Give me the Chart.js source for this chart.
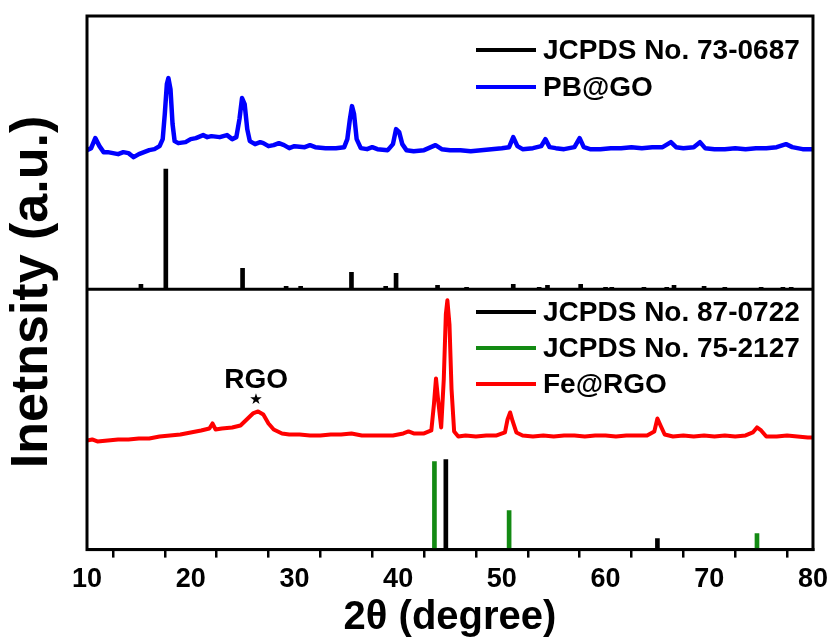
<!DOCTYPE html>
<html>
<head>
<meta charset="utf-8">
<script src="https://cdn.jsdelivr.net/npm/chart.js@4.4.0/dist/chart.umd.min.js"></script>
<style>
  html, body { margin: 0; padding: 0; background: #fff; }
  #wrap { width: 834px; height: 640px; }
</style>
</head>
<body>
<div id="wrap"><canvas id="xrd" width="834" height="640"></canvas></div>
<script>
// XRD patterns: PB@GO (top panel) and Fe@RGO (bottom panel) with reference cards

// PB@GO measured pattern (2theta, intensity a.u.)
var pbgoAngle = [10.0, 10.4, 10.8, 11.2, 11.6, 12.0, 12.5, 13.0, 13.5, 14.0, 14.5, 15.0, 15.5, 16.0, 16.5, 17.0,
  17.3, 17.5, 17.7, 17.85, 18.05, 18.25, 18.45, 18.8, 19.5, 20.0, 20.5, 21.2, 21.6, 22.0, 22.8, 23.5, 24.0, 24.4,
  24.7, 24.95, 25.2, 25.45, 25.7, 26.2, 26.7, 27.0, 27.5, 28.0, 28.5, 29.0, 29.5, 30.0, 31.0, 31.5, 32.0, 33.0, 34.0, 34.8,
  35.1, 35.35, 35.55, 35.75, 36.0, 36.4, 37.0, 37.5, 38.0, 39.0, 39.5, 39.8, 40.1, 40.4, 40.8, 41.5,
  42.5, 43.6, 44.2, 45.0, 46.0, 47.0, 48.0, 49.0, 50.0, 50.7, 51.1, 51.5, 52.0, 53.0, 53.8,
  54.2, 54.6, 55.2, 56.0, 57.0, 57.5, 57.9, 58.5, 59.5, 60.5, 61.5, 62.5, 63.5, 64.5, 65.5,
  66.3, 66.8, 67.5, 68.5, 69.1, 69.6, 70.5, 71.5, 72.5, 73.5, 74.5, 75.5, 76.5, 77.4, 78.0,
  79.0, 80.0];
var pbgoIntensity = [139, 141, 151, 143, 137, 137, 136, 135, 137, 136, 132, 135, 137, 139, 140, 143,
  150, 175, 205, 211, 200, 165, 148, 146, 147, 150, 151, 154, 152, 153, 152, 154, 150, 152,
  170, 191, 185, 160, 148, 145, 147, 146, 143, 144, 146, 144, 141, 143, 142, 144, 142, 141, 141, 142,
  150, 170, 183, 175, 150, 141, 140, 142, 140, 139, 145, 160, 157, 145, 139, 138,
  139, 144, 140, 139, 139, 138, 139, 140, 141, 142, 152, 143, 140, 141, 143,
  150, 142, 141, 140, 142, 151, 142, 140, 140, 141, 141, 142, 141, 142, 142,
  147, 142, 141, 142, 147, 141, 140, 140, 141, 140, 141, 141, 142, 145, 142,
  140, 140];

// JCPDS No. 73-0687 reference lines
var card730687Angle = [15.2, 17.6, 25.0, 29.2, 30.6, 35.5, 38.8, 39.8, 43.8, 46.6, 51.1, 53.6,
  54.4, 57.6, 60.0, 60.6, 63.7, 65.9, 66.6, 69.5, 71.5, 75.0, 77.1, 77.9];
var card730687Intensity = [5, 120, 21, 3, 3, 17, 3, 16, 4, 2, 5, 2,
  4, 5, 2, 2, 2, 2, 4, 3, 2, 2, 2, 2];

// Fe@RGO measured pattern
var feAngle = [10.0, 10.5, 11.0, 12.0, 13.0, 14.0, 15.0, 16.0, 17.0, 18.0, 19.0, 20.0, 21.0,
  21.8, 22.1, 22.4, 23.0, 24.0, 24.8, 25.5, 26.0, 26.5, 27.0, 27.5, 28.0, 28.8, 29.5, 30.5,
  31.5, 32.5, 33.5, 34.5, 35.5, 36.5, 37.5, 38.5, 39.5, 40.5, 41.0, 41.5, 42.5, 43.2, 43.45,
  43.65, 43.85, 44.15, 44.4, 44.6, 44.75, 44.95, 45.15, 45.4, 45.8, 46.5, 47.5, 48.5, 49.5,
  50.3, 50.55, 50.8, 51.05, 51.4, 52.0, 53.0, 54.0, 55.0, 56.0, 57.0, 58.0, 59.0, 60.0,
  61.0, 62.0, 63.0, 64.0, 64.7, 65.0, 65.3, 65.7, 66.5, 67.5, 68.5, 69.5, 70.5, 71.5, 72.5,
  73.5, 74.2, 74.6, 75.0, 75.5, 76.5, 77.5, 78.5, 79.5, 80.0];
var feIntensity = [109, 110, 108, 109, 110, 110, 111, 111, 113, 114, 115, 117, 119,
  121, 126, 120, 121, 122, 124, 131, 136, 138, 135, 126, 120, 116, 115, 115,
  114, 114, 115, 115, 116, 114, 114, 114, 114, 116, 118, 116, 116, 119, 145,
  171, 150, 122, 170, 235, 249, 225, 160, 118, 113, 114, 113, 114, 114,
  117, 130, 137, 128, 117, 114, 113, 114, 113, 114, 114, 113, 114, 114,
  113, 114, 114, 114, 118, 131, 124, 115, 113, 114, 113, 114, 113, 114, 113,
  114, 117, 122, 119, 113, 113, 114, 113, 112, 112];

// JCPDS No. 87-0722 and No. 75-2127 reference lines
var card870722Angle = [44.6, 65.0];
var card870722Intensity = [90, 11];
var card752127Angle = [43.5, 50.7, 74.6];
var card752127Intensity = [88, 39, 16];

var xTicksMajor = [10, 20, 30, 40, 50, 60, 70, 80];

var FONT = "'Liberation Sans', Arial, sans-serif";

function toPoints(xs, ys) {
  return xs.map(function(x, i) { return { x: x, y: ys[i] }; });
}

function stickSet(label, xs, ys, color, axis, panel) {
  return {
    type: 'bar',
    label: label,
    data: toPoints(xs, ys),
    yAxisID: axis,
    backgroundColor: color,
    borderWidth: 0,
    barThickness: 4,
    grouped: false,
    panel: panel
  };
}

function curveSet(label, xs, ys, color, axis, panel, width) {
  return {
    type: 'line',
    label: label,
    data: toPoints(xs, ys),
    yAxisID: axis,
    borderColor: color,
    backgroundColor: color,
    borderWidth: width,
    pointRadius: 0,
    tension: 0,
    borderJoinStyle: 'round',
    panel: panel
  };
}

// frame around both panels, the divider between them, and the y title
var framePlugin = {
  id: 'frame',
  afterDatasetsDraw: function(chart, args, opts) {
    var a = chart.chartArea;
    var ctx = chart.ctx;
    var mid = chart.scales.yTop.getPixelForValue(0);
    ctx.save();
    ctx.strokeStyle = '#000';
    ctx.lineWidth = 3;
    ctx.strokeRect(a.left, a.top, a.right - a.left, a.bottom - a.top);
    ctx.beginPath();
    ctx.moveTo(a.left, mid);
    ctx.lineTo(a.right, mid);
    ctx.stroke();

    // y title, a bit below the middle of the plot as in the original
    ctx.translate(opts.titleX, opts.titleY);
    ctx.rotate(-Math.PI / 2);
    ctx.font = 'bold 52px ' + FONT;
    ctx.fillStyle = '#000';
    ctx.textAlign = 'center';
    ctx.textBaseline = 'middle';
    ctx.fillText(opts.yTitle, 0, 0);
    ctx.restore();
  }
};

// one legend per panel, plus the RGO marker
var panelLegendPlugin = {
  id: 'panelLegend',
  afterDatasetsDraw: function(chart, args, opts) {
    var ctx = chart.ctx;
    ctx.save();
    ctx.font = 'bold 28px ' + FONT;
    ctx.textBaseline = 'middle';
    ctx.fillStyle = '#000';
    opts.panels.forEach(function(p) {
      var row = 0;
      chart.data.datasets.forEach(function(ds) {
        if (ds.panel !== p.name) return;
        var y = p.top + row * p.gap;
        ctx.strokeStyle = ds.type === 'bar' ? ds.backgroundColor : ds.borderColor;
        ctx.lineWidth = 4;
        ctx.beginPath();
        ctx.moveTo(opts.lineStart, y);
        ctx.lineTo(opts.lineEnd, y);
        ctx.stroke();
        ctx.fillText(ds.label, opts.textStart, y + 1);
        row++;
      });
    });

    var xs = chart.scales.x, yb = chart.scales.yBot;
    var mx = xs.getPixelForValue(opts.marker.x);
    ctx.textAlign = 'center';
    ctx.fillText(opts.marker.text, mx, yb.getPixelForValue(opts.marker.textY));
    ctx.font = '15px "DejaVu Sans", sans-serif';
    ctx.fillText('\u2605', mx, yb.getPixelForValue(opts.marker.starY));
    ctx.restore();
  }
};

var datasets = [
  stickSet('JCPDS No. 73-0687', card730687Angle, card730687Intensity, '#000000', 'yTop', 'top'),
  curveSet('PB@GO', pbgoAngle, pbgoIntensity, '#0000ff', 'yTop', 'top', 4.5),
  stickSet('JCPDS No. 87-0722', card870722Angle, card870722Intensity, '#000000', 'yBot', 'bottom'),
  stickSet('JCPDS No. 75-2127', card752127Angle, card752127Intensity, '#138a13', 'yBot', 'bottom'),
  curveSet('Fe@RGO', feAngle, feIntensity, '#ff0000', 'yBot', 'bottom', 4)
];

new Chart(document.getElementById('xrd'), {
  type: 'line',
  data: { datasets: datasets },
  plugins: [framePlugin, panelLegendPlugin],
  options: {
    responsive: false,
    animation: false,
    layout: { padding: { top: 16, right: 19, bottom: 2, left: 87 } },
    plugins: {
      legend: { display: false },
      tooltip: { enabled: false },
      frame: { yTitle: 'Inetnsity (a.u.)', titleX: 33, titleY: 292 },
      panelLegend: {
        lineStart: 476,
        lineEnd: 536,
        textStart: 543,
        panels: [
          { name: 'top', top: 50, gap: 37 },
          { name: 'bottom', top: 312, gap: 36 }
        ],
        marker: { text: 'RGO', x: 26.3, textY: 169, starY: 149 }
      }
    },
    scales: {
      x: {
        type: 'linear',
        min: 10,
        max: 80,
        offset: false,
        afterBuildTicks: function(scale) {
          var t = [];
          for (var i = 0; i < xTicksMajor.length; i++) {
            t.push({ value: xTicksMajor[i] });
            if (i < xTicksMajor.length - 1) t.push({ value: xTicksMajor[i] + 5 });
          }
          scale.ticks = t;
        },
        ticks: {
          autoSkip: false,
          maxRotation: 0,
          color: '#000',
          padding: 6,
          font: { family: FONT, size: 27, weight: 'bold' },
          callback: function(v) { return xTicksMajor.indexOf(v) >= 0 ? v : ''; }
        },
        grid: { drawOnChartArea: false, tickLength: 8, color: '#000', lineWidth: 2.5 },
        border: { display: true, color: '#000', width: 3 },
        title: {
          display: true,
          text: '2\u03b8 (degree)',
          color: '#000',
          font: { family: FONT, size: 40, weight: 'bold', lineHeight: 1 },
          padding: { top: -4, bottom: 0 }
        }
      },
      yTop: {
        type: 'linear',
        display: false,
        min: -260,
        max: 273
      },
      yBot: {
        type: 'linear',
        display: false,
        min: 0,
        max: 533
      }
    }
  }
});
</script>
</body>
</html>
